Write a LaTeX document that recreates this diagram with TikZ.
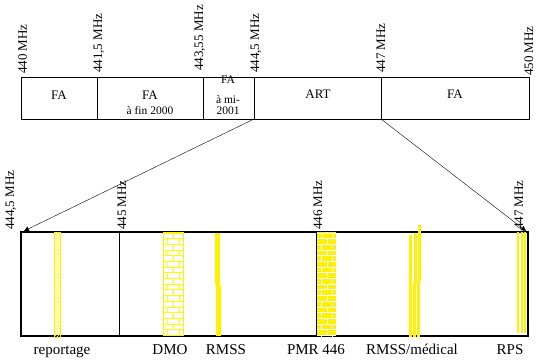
\documentclass[tikz,border=0pt]{standalone}
\usepackage{fontspec}
\setmainfont{Liberation Serif}
\usetikzlibrary{patterns,arrows.meta}

\tikzset{
  freq/.style={rotate=90,anchor=base west,inner sep=0pt,font=\fontsize{13}{13}\selectfont},
  bandtxt/.style={anchor=base,inner sep=0pt,font=\fontsize{13}{13}\selectfont},
  smalltxt/.style={anchor=base,inner sep=0pt,font=\fontsize{11.5}{11.5}\selectfont},
  usetxt/.style={anchor=base,inner sep=0pt,font=\fontsize{15}{15}\selectfont},
  zoomarrow/.style={-{Triangle[length=5pt,width=5pt]}},
  ybar/.style={fill=yellow,draw=none},
}

\begin{document}
\begin{tikzpicture}[x=1pt,y=-1pt]
    \useasboundingbox (0,0) rectangle (539,361);
    % upper band
    \draw (21,77) rectangle (529,119);
    \foreach \x in {97,203,254,381}
        \draw (\x,77) -- (\x,119);
    \foreach \x/\y/\f in {27/74/440 MHz, 102/73/{441,5 MHz}, 203/71/{443,55 MHz},
                          259/73/{444,5 MHz}, 385/73/447 MHz, 533/76/450 MHz}
        \node[freq] at (\x,\y) {\f};
    \node[bandtxt] (fa1) at (59,100) {FA};
    \node[bandtxt] (fa2) at (150,100) {FA};
    \node[smalltxt] (fa2b) at (150,114) {à fin 2000};
    \node[smalltxt] (fa3) at (228,84) {FA};
    \node[smalltxt] (fa3b) at (228,104) {à mi-};
    \node[smalltxt] (fa3c) at (228,115) {2001};
    \node[bandtxt] (art) at (318,99) {ART};
    \node[bandtxt] (fa4) at (455,99) {FA};
    % zoom on ART
    \coordinate (artL) at (254,119);
    \coordinate (artR) at (381,119);
    \coordinate (zoomL) at (24,231);
    \coordinate (zoomR) at (526,231);
    \draw[zoomarrow] (artL) -- (zoomL);
    \draw[zoomarrow] (artR) -- (zoomR);
    % lower band
    \draw[line width=2pt] (21,232) rectangle (528,336);
    \draw (119,232) -- (119,337);
    \foreach \x/\f in {14/{444,5 MHz}, 126/445 MHz, 322/446 MHz, 523/447 MHz}
        \node[freq] at (\x,230) {\f};
    % reportage
    \draw[yellow,pattern=north east lines,pattern color=yellow] (54.5,232) rectangle (60.5,337);
    % DMO
    \draw[yellow,pattern=bricks,pattern color=yellow] (163,232) rectangle (183,335);
    % RMSS
    \fill[ybar] (215,233) rectangle (220,285);
    \fill[ybar] (216,285) rectangle (221,336);
    % PMR 446
    \fill[ybar] (316,232) rectangle (336,336);
    \fill[pattern=bricks,pattern color=white] (316,232) rectangle (336,336);
    \draw (316,232) -- (316,336);
    % RMSS/medical
    \fill[ybar] (409.3,235) rectangle (412.3,285);
    \fill[ybar] (413.7,232.7) rectangle (416.7,283);
    \fill[ybar] (417.7,225) rectangle (421,280.7);
    \fill[ybar] (409,285) rectangle (412,336.7);
    \fill[ybar] (413.3,283) rectangle (416,336.7);
    \fill[ybar] (416.7,280.7) rectangle (419.7,336.7);
    % RPS
    \foreach \x in {517.3,520.7,524}
        \fill[ybar] (\x,232) rectangle (\x+2,333);
    \node[usetxt] (rep) at (62,354) {reportage};
    \node[usetxt] (dmo) at (170,354) {DMO};
    \node[usetxt] (rmss) at (226,354) {RMSS};
    \node[usetxt] (pmr) at (316,354) {PMR 446};
    \node[usetxt] (med) at (412,354) {RMSS/médical};
    \node[usetxt] (rps) at (510,354) {RPS};
\end{tikzpicture}
\end{document}
